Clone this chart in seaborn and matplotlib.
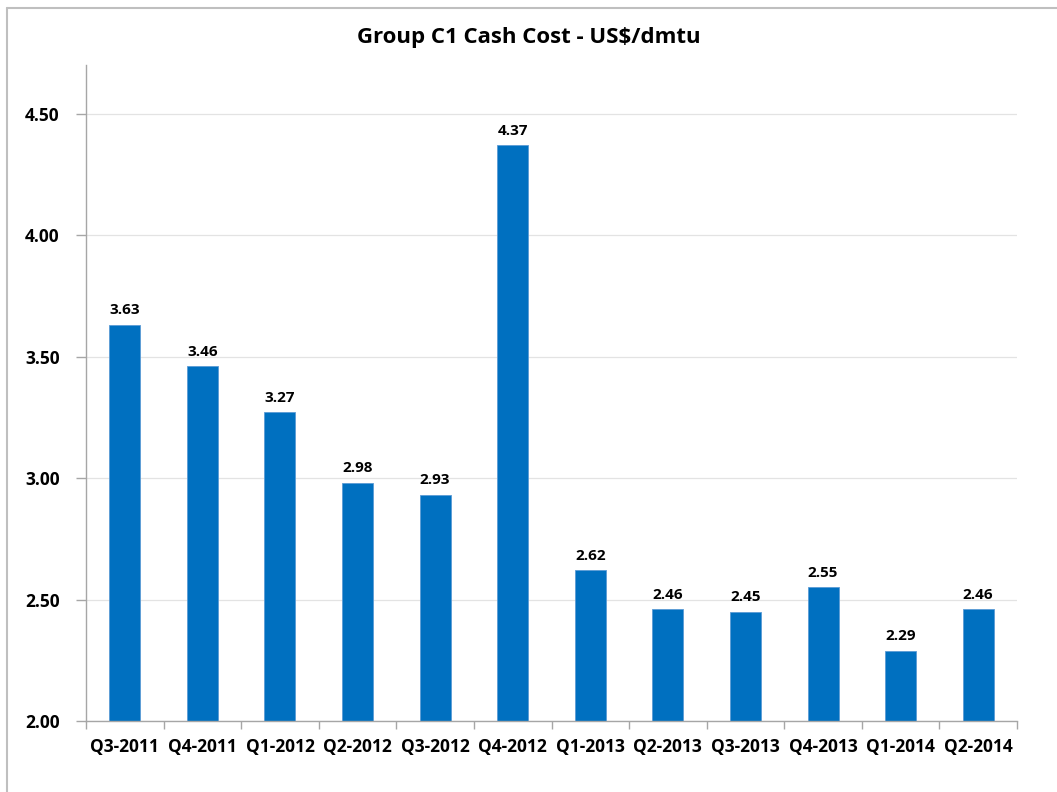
import matplotlib
matplotlib.use("Agg")
import matplotlib.pyplot as plt
from matplotlib.lines import Line2D
from matplotlib.ticker import FixedLocator, FormatStrFormatter
import seaborn as sns
import pandas as pd

quarters = ["Q3-2011", "Q4-2011", "Q1-2012", "Q2-2012", "Q3-2012", "Q4-2012",
            "Q1-2013", "Q2-2013", "Q3-2013", "Q4-2013", "Q1-2014", "Q2-2014"]
cash_cost = [3.63, 3.46, 3.27, 2.98, 2.93, 4.37, 2.62, 2.46, 2.45, 2.55, 2.29, 2.46]
y_ticks = [2.00, 2.50, 3.00, 3.50, 4.00, 4.50]
title = "Group C1 Cash Cost - US$/dmtu"

sns.set_theme(style="white")
plt.rcParams['font.family'] = ['Open Sans', 'DejaVu Sans']
plt.rcParams['text.color'] = 'black'

df = pd.DataFrame({"quarter": quarters, "cost": cash_cost})

fig = plt.figure(figsize=(10.57, 7.92), dpi=100)
ax = fig.add_axes([86/1057, 1-721/792, (1017-86)/1057, (721-65)/792])

sns.barplot(data=df, x="quarter", y="cost", color="#0070C0", width=0.4,
            saturation=1, edgecolor="#5B9BD5", linewidth=0.6, ax=ax)

ax.set_ylim(2.0, 4.70)
ax.set_xlim(-0.5, len(quarters) - 0.5)
ax.yaxis.set_major_locator(FixedLocator(y_ticks))
ax.yaxis.set_major_formatter(FormatStrFormatter("%.2f"))
ax.grid(axis="y", color="#E3E3E3", linewidth=0.9)
ax.set_axisbelow(True)

for s in ["top", "right"]:
    ax.spines[s].set_visible(False)
for s in ["left", "bottom"]:
    ax.spines[s].set_color("#A6A6A6")
    ax.spines[s].set_linewidth(1.0)

ax.set_xlabel("")
ax.set_ylabel("")
ax.tick_params(axis="x", which="major", length=0, pad=12, labelsize=12.5)
ax.xaxis.set_minor_locator(FixedLocator([i - 0.5 for i in range(len(quarters) + 1)]))
ax.tick_params(axis="x", which="minor", length=6, color="#A6A6A6", width=1, direction="out", bottom=True)
ax.tick_params(axis="y", which="major", length=7, color="#A6A6A6", width=1, direction="out",
               left=True, pad=12, labelsize=12.5)
for lab in ax.get_xticklabels() + ax.get_yticklabels():
    lab.set_fontweight("bold")
    lab.set_color("black")

for i, v in enumerate(cash_cost):
    ax.annotate(f"{v:.2f}", (i, v), xytext=(0, 5.5), textcoords="offset points",
                ha="center", va="bottom", fontsize=11, fontweight="bold", color="black")

fig.text(0.5, 1 - 37/792, title, ha="center", va="center", fontsize=16,
         fontweight="bold", color="black")

bx = 7/1057
by = 1 - 8/792
fig.add_artist(Line2D([bx, bx], [0, by], transform=fig.transFigure, color="#BFBFBF", linewidth=1.5))
fig.add_artist(Line2D([bx, 1], [by, by], transform=fig.transFigure, color="#BFBFBF", linewidth=1.5))

fig.savefig("out.png", dpi=100)
